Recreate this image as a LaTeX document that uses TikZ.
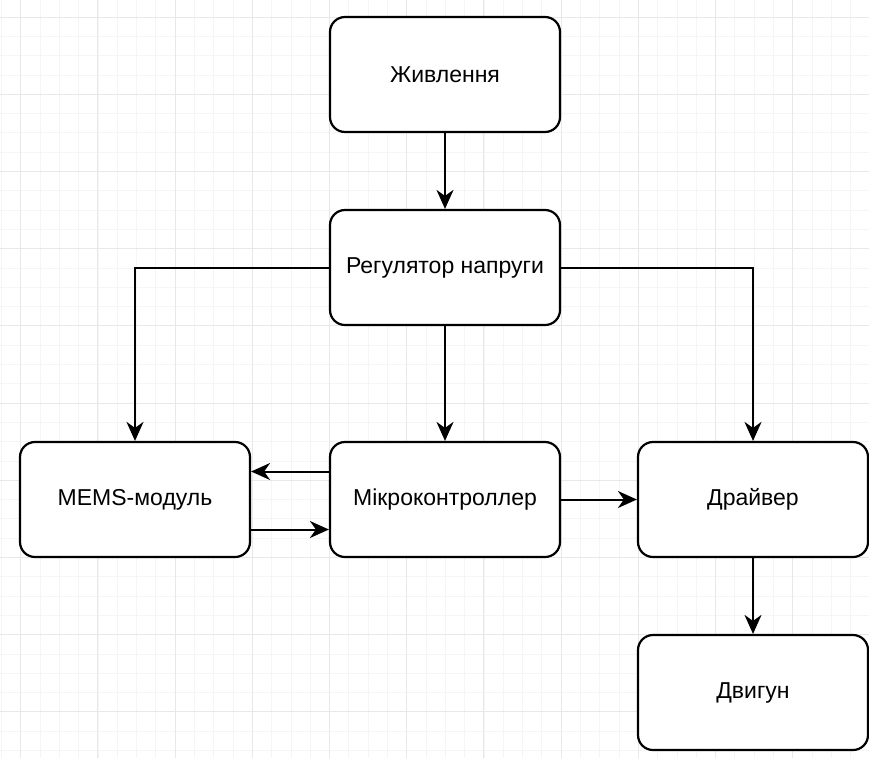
\documentclass[tikz,border=0pt]{standalone}
\usepackage{fontspec}
\setmainfont{Liberation Sans}
\usetikzlibrary{arrows.meta}
\tikzset{
  block/.style={draw, line width=2.2pt, rounded corners=15pt, fill=white,
    minimum width=230pt, minimum height=115pt, font=\fontsize{23}{27}\selectfont},
  link/.style={line width=2pt, -{Stealth[length=19pt, width=17pt, inset=6pt]}},
  gridminor/.style={black!4, line width=0.8pt},
  gridmajor/.style={black!9, line width=1pt}
}
\begin{document}
\begin{tikzpicture}[x=1pt, y=-1pt]
\useasboundingbox (0,0) rectangle (869,758);
\fill[white] (0,0) rectangle (869,758);

% background grid
\foreach \k in {-1,...,44} {
  \draw[gridminor] ({20.7+19.3*\k},0) -- ({20.7+19.3*\k},758);
  \draw[gridminor] (0,{17+19.3*\k}) -- (869,{17+19.3*\k});
}
\foreach \k in {0,...,11} {
  \draw[gridmajor] ({20.7+77.2*\k},0) -- ({20.7+77.2*\k},758);
  \draw[gridmajor] (0,{17+77.2*\k}) -- (869,{17+77.2*\k});
}

% blocks
\node[block] (power) at (445,74.5) {Живлення};
\node[block] (reg) at (445,267.5) {Регулятор напруги};
\node[block] (mems) at (135,499.5) {MEMS-модуль};
\node[block] (mcu) at (445,499.5) {Мікроконтроллер};
\node[block] (drv) at (753,499.5) {Драйвер};
\node[block] (motor) at (753,692.5) {Двигун};

% connections
\draw[link] (power) -- (reg);
\draw[link] (reg) -- (mcu);
\draw[link] (reg.west) -| (mems.north);
\draw[link] (reg.east) -| (drv.north);
\draw[link] ([yshift=28pt]mcu.west) -- ([yshift=28pt]mems.east);
\draw[link] ([yshift=-30pt]mems.east) -- ([yshift=-30pt]mcu.west);
\draw[link] (mcu) -- (drv);
\draw[link] (drv) -- (motor);
\end{tikzpicture}
\end{document}
